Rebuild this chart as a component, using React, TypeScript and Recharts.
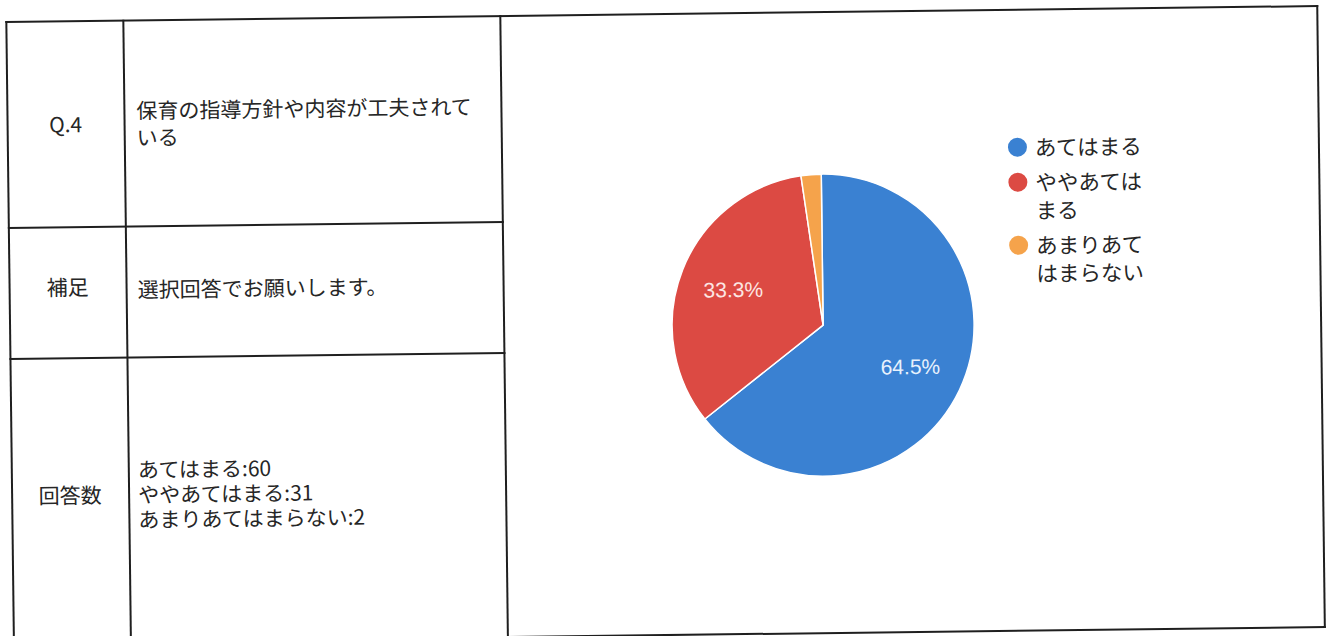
import { Legend, Pie, PieChart } from "recharts";

const categories = ["あてはまる", "ややあてはまる", "あまりあてはまらない"];
const counts = [60, 31, 2];
const sliceColors = ["#3a81d2", "#dc4a43", "#f5a34b"];
const labelColors = ["#e8f2fd", "#fce6e3", "#ffffff"];

const rowLabels = ["Q.4", "補足", "回答数"];
const questionLines = ["保育の指導方針や内容が工夫されて", "いる"];
const noteText = "選択回答でお願いします。";

const data = categories.map((name, i) => ({ name, value: counts[i], fill: sliceColors[i] }));

const FONT = '"Noto Sans CJK JP", "Noto Sans", sans-serif';
const INK = "#262626";
const LINE = "#1f1f1f";
const RADIAN = Math.PI / 180;

function HLine({ x1, x2, y }: { x1: number; x2: number; y: number }) {
  return (
    <div
      style={{ position: "absolute", left: x1 - 1, top: y - 1, width: x2 - x1 + 2, height: 2, background: LINE }}
    />
  );
}

function VLine({ x, y1, y2 }: { x: number; y1: number; y2: number }) {
  return (
    <div
      style={{ position: "absolute", left: x - 1, top: y1 - 1, width: 2, height: y2 - y1 + 2, background: LINE }}
    />
  );
}

function Text({
  cx,
  left,
  top,
  children,
  lineHeight = 25,
}: {
  cx?: number;
  left?: number;
  top: number;
  children: React.ReactNode;
  lineHeight?: number;
}) {
  const style: React.CSSProperties = {
    position: "absolute",
    top,
    fontFamily: FONT,
    fontSize: 21,
    lineHeight: `${lineHeight}px`,
    color: INK,
    whiteSpace: "nowrap",
  };
  if (cx !== undefined) {
    style.left = cx - 60;
    style.width = 120;
    style.textAlign = "center";
  } else {
    style.left = left;
  }
  return <div style={style}>{children}</div>;
}

function renderLabel(props: any) {
  const { cx, cy, midAngle, outerRadius, percent, index } = props;
  if (percent < 0.05) return null;
  const r = outerRadius * 0.64;
  const x = cx + r * Math.cos(-midAngle * RADIAN);
  const y = cy + r * Math.sin(-midAngle * RADIAN);
  return (
    <text
      x={x}
      y={y}
      fill={labelColors[index]}
      textAnchor="middle"
      dominantBaseline="central"
      fontFamily='"Liberation Sans", Arial, sans-serif'
      fontSize={21}
    >
      {`${(percent * 100).toFixed(1)}%`}
    </text>
  );
}

function LegendList(props: any) {
  // keep the slice order, not the alphabetical one
  const items = [...(props.payload || [])].sort(
    (a: any, b: any) => categories.indexOf(a.value) - categories.indexOf(b.value)
  );
  return (
    <div style={{ fontFamily: FONT, fontSize: 21.5, lineHeight: "28px", color: INK }}>
      {items.map((entry: any) => {
        const i = categories.indexOf(entry.value);
        return (
          <div key={entry.value} style={{ display: "flex", alignItems: "flex-start", marginBottom: 7 }}>
            <span
              style={{
                width: 19,
                height: 19,
                borderRadius: "50%",
                background: sliceColors[i],
                marginTop: 4.5,
                flex: "none",
              }}
            />
            <span style={{ marginLeft: 8, width: 114, wordBreak: "break-all" }}>{entry.value}</span>
          </div>
        );
      })}
    </div>
  );
}

export default function App() {
  return (
    <div
      style={{
        position: "absolute",
        left: 0,
        top: 0,
        width: 1338,
        height: 636,
        overflow: "hidden",
        background: "#fff",
      }}
    >
      <div
        style={{
          position: "absolute",
          left: 0,
          top: 0,
          width: 1338,
          height: 636,
          transform: "rotate(-0.7deg)",
          transformOrigin: "669px 318px",
        }}
      >
        {/* table frame */}
        <HLine x1={10} x2={1321} y={14} />
        <HLine x1={10} x2={1321} y={635} />
        <VLine x={10} y1={14} y2={635} />
        <VLine x={1321} y1={14} y2={635} />
        <VLine x={127} y1={14} y2={635} />
        <VLine x={504} y1={14} y2={635} />
        <HLine x1={10} x2={504} y={220} />
        <HLine x1={10} x2={504} y={351} />

        {/* row labels */}
        <Text cx={68} top={104}>{rowLabels[0]}</Text>
        <Text cx={68} top={267}>{rowLabels[1]}</Text>
        <Text cx={68} top={475}>{rowLabels[2]}</Text>

        {/* cell contents */}
        <Text left={139} top={90} lineHeight={27}>
          {questionLines.map((l) => (
            <div key={l}>{l}</div>
          ))}
        </Text>
        <Text left={138} top={270}>{noteText}</Text>
        <Text left={136} top={450}>
          {categories.map((c, i) => (
            <div key={c}>{`${c}:${counts[i]}`}</div>
          ))}
        </Text>

        {/* pie chart */}
        <div style={{ position: "absolute", left: 623, top: 127 }}>
          <PieChart width={560} height={400} margin={{ top: 0, right: 0, bottom: 0, left: 0 }}>
            <Pie
              data={data}
              dataKey="value"
              nameKey="name"
              cx={200}
              cy={200}
              outerRadius={151}
              startAngle={90}
              endAngle={-270}
              stroke="#ffffff"
              strokeWidth={1.5}
              label={renderLabel}
              labelLine={false}
              isAnimationActive={false}
            />
            <Legend
              layout="vertical"
              align="right"
              verticalAlign="top"
              content={LegendList}
              wrapperStyle={{ left: 387, top: 10, width: 150 }}
            />
          </PieChart>
        </div>
      </div>
    </div>
  );
}
